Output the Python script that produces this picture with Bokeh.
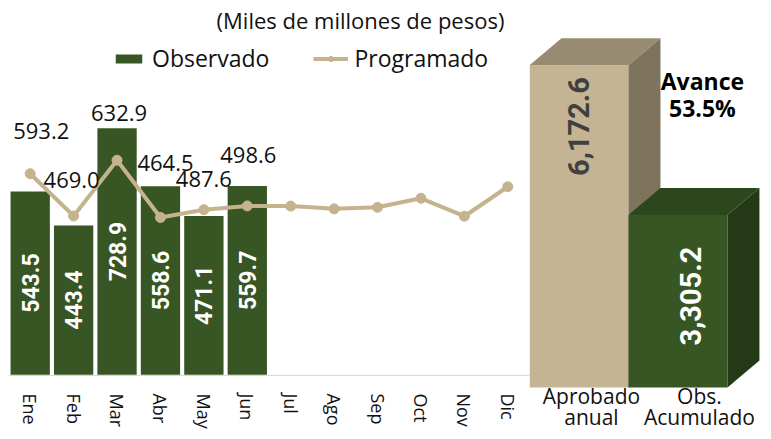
from math import pi
from bokeh.plotting import figure
from bokeh.layouts import row
from bokeh.models import Range1d, FactorRange, Label, FixedTicker
from bokeh.core.properties import value
from bokeh.embed import file_html
from bokeh.resources import INLINE

# ---------------- data ----------------
months = ["Ene", "Feb", "Mar", "Abr", "May", "Jun", "Jul", "Ago", "Sep", "Oct", "Nov", "Dic"]
observado = [543.5, 443.4, 728.9, 558.6, 471.1, 559.7]
programado = [593.2, 469.0, 632.9, 464.5, 487.6, 498.6, 498.0, 490.0, 494.5, 521.0, 468.3, 555.0]
summary_labels = ["Aprobado\nanual", "Obs.\nAcumulado"]
summary_values = [6172.6, 3305.2]
avance_pct = 53.5
title_text = "(Miles de millones de pesos)"

# ---------------- styles ----------------
GREEN = "#375623"
TAN = "#C5B38E"
FONT = "Open Sans"
NUM_FONT = "Roboto"
TXT = "#111111"
# pixel offsets of the "Programado" value labels (x right, y down)
PROG_LABEL_DX = [11, -2, 2, 5, 0, 1]
PROG_LABEL_DY = [-43, -36, -47, -55, -31, -51]

H = 431

# ---------------- left chart ----------------
p1 = figure(x_range=FactorRange(*months), y_range=Range1d(-164.7, 1102.6),
            width=529, height=H, min_border_left=8, min_border_right=0,
            min_border_top=0, min_border_bottom=0,
            toolbar_location=None, output_backend="svg", outline_line_color=None)
p1.yaxis.visible = False
p1.xgrid.grid_line_color = None
p1.ygrid.grid_line_color = None
p1.xaxis.fixed_location = 0
p1.xaxis.axis_line_color = "#D9D9D9"
p1.xaxis.axis_line_width = 1
p1.xaxis.major_tick_line_color = None
p1.xaxis.minor_tick_line_color = None
p1.xaxis.major_label_orientation = "vertical"
p1.xaxis.major_label_standoff = 12
p1.xaxis.major_label_text_font = FONT
p1.xaxis.major_label_text_font_size = "18px"
p1.xaxis.major_label_text_color = TXT
p1.x_range.range_padding = 0

p1.vbar(x=months[:len(observado)], top=observado, width=0.94,
        fill_color=GREEN, line_color="white", line_width=1.5, legend_label="Observado")
p1.line(months, programado, line_color=TAN, line_width=4, legend_label="Programado")
p1.scatter(months, programado, size=10, fill_color=TAN, line_color=TAN, legend_label="Programado")

p1.text(x=months[:len(observado)], y=[v / 2 for v in observado],
        text=[f"{v:.1f}" for v in observado], angle=pi / 2,
        text_align="center", text_baseline="middle", text_color="white",
        text_font=value(NUM_FONT), text_font_style="bold", text_font_size="23px")

n_lab = len(PROG_LABEL_DX)
p1.text(x=months[:n_lab], y=programado[:n_lab],
        text=[f"{v:.1f}" for v in programado[:n_lab]],
        x_offset=PROG_LABEL_DX, y_offset=PROG_LABEL_DY,
        text_align="center", text_baseline="middle", text_color=TXT,
        text_font=value(FONT), text_font_size="22px")

p1.add_layout(Label(x=8.107, y=1044, text=title_text, text_align="center",
                    text_baseline="middle", text_font=FONT, text_font_size="22px",
                    text_color=TXT))

lg = p1.legend[0]
lg.orientation = "horizontal"
lg.location = (103, 357)
lg.padding = 0
lg.margin = 0
lg.spacing = 44
lg.border_line_alpha = 0
lg.background_fill_alpha = 0
lg.glyph_width = 35
lg.glyph_height = 13
lg.label_standoff = 6
lg.label_text_font = FONT
lg.label_text_font_size = "23px"
lg.label_text_color = TXT

# ---------------- right chart (3-D bars) ----------------
DX = 0.323      # depth in x (bar widths)
DY = 517        # depth in y (data units)
face_colors = [("#C4B494", "#978B71", "#7E735C"), (GREEN, "#2C461D", "#243A17")]

p2 = figure(x_range=Range1d(-0.5, 1.864), y_range=Range1d(-843, 7414),
            width=763 - 529, height=H, min_border_left=0, min_border_right=0,
            min_border_top=0, min_border_bottom=0,
            toolbar_location=None, output_backend="svg", outline_line_color=None)
p2.yaxis.visible = False
p2.xgrid.grid_line_color = None
p2.ygrid.grid_line_color = None

xs, ys, cols = [], [], []
for i, v in enumerate(summary_values):
    front, top, side = face_colors[i]
    l, r = i - 0.5, i + 0.5
    xs += [[l, r, r, l], [l, r, r + DX, l + DX], [r, r + DX, r + DX, r]]
    ys += [[0, 0, v, v], [v, v, v + DY, v + DY], [0, DY, v + DY, v]]
    cols += [front, top, side]
p2.patches(xs, ys, fill_color=cols, line_color=None)

# category axis under the 3-D bars
CAT_X = [0.126, 1.217]
p2.xaxis.fixed_location = 0
p2.xaxis.ticker = FixedTicker(ticks=CAT_X)
p2.xaxis.major_label_overrides = {x: s for x, s in zip(CAT_X, summary_labels)}
p2.xaxis.axis_line_color = None
p2.xaxis.major_tick_line_color = None
p2.xaxis.minor_tick_line_color = None
p2.xaxis.major_label_standoff = -11
p2.xaxis.major_label_text_font = FONT
p2.xaxis.major_label_text_font_size = "21px"
p2.xaxis.major_label_text_color = TXT
p2.xaxis.major_label_text_line_height = 0.73

LABEL_FRAC = [0.81, 0.53]
LABEL_XSHIFT = [0.0, 0.126]
p2.text(x=[i + LABEL_XSHIFT[i] for i in range(len(summary_values))],
        y=[v * f for v, f in zip(summary_values, LABEL_FRAC)],
        text=[f"{v:,.1f}" for v in summary_values], angle=pi / 2,
        text_align="center", text_baseline="middle",
        text_color=["#404040", "white"],
        text_font=value(NUM_FONT), text_font_style="bold", text_font_size="29px")

p2.text(x=[1.247], y=[5613], text=[f"Avance\n{avance_pct:.1f}%"],
        text_align="center", text_baseline="middle", text_color="black",
        text_font=value(FONT), text_font_style="bold", text_font_size="23px",
        text_line_height=0.86)

layout = row(p1, p2, spacing=0)
open("out.html", "w").write(file_html(layout, INLINE))
